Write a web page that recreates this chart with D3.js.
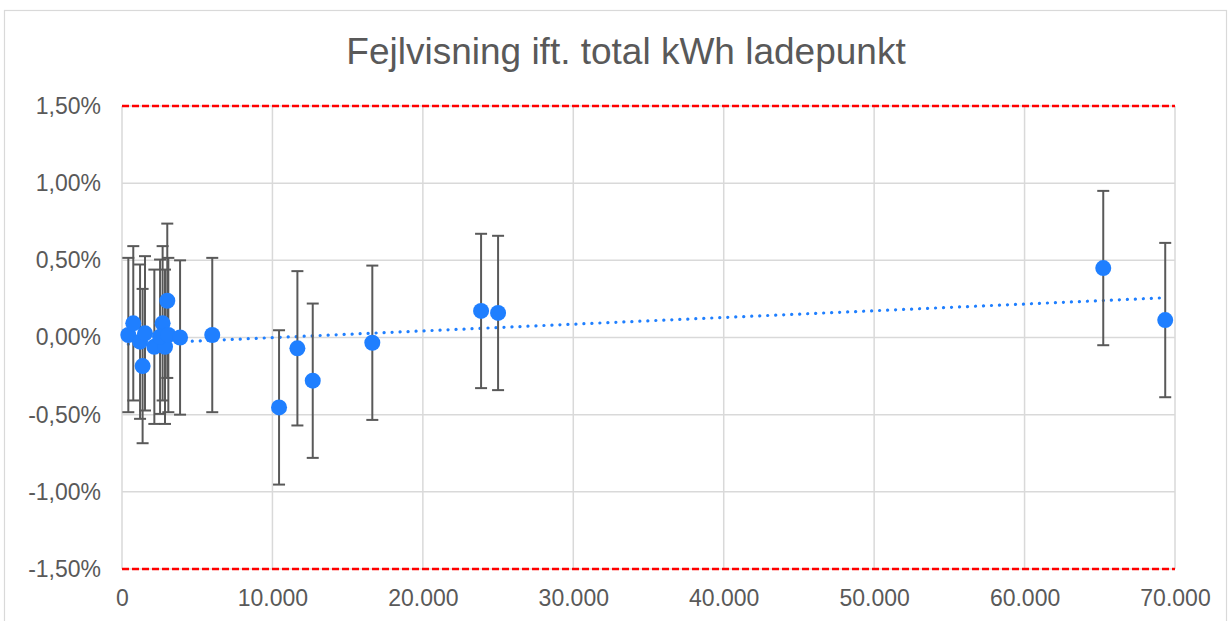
<!DOCTYPE html>
<html><head><meta charset="utf-8">
<script src="https://cdn.jsdelivr.net/npm/d3@7"></script>
<style>body{margin:0;background:#fff}svg{display:block}</style>
</head><body>
<svg id="c" width="1231" height="621"></svg>
<script>
const title = "Fejlvisning ift. total kWh ladepunkt";
const kwh = [420, 750, 1200, 1530, 1370, 2150, 2700, 3010, 2860, 2530, 3080, 3860, 6000,
             10440, 11660, 12680, 16640, 23870, 25000, 65230, 69350];
const errPct = [0.016, 0.092, -0.027, 0.027, -0.185, -0.06, 0.092, 0.238, -0.06, 0.005, 0.016, 0.0, 0.016,
                -0.453, -0.07, -0.28, -0.034, 0.172, 0.159, 0.45, 0.113];
const errBar = 0.5;          // ± error bar in %
const limits = [1.5, -1.5];  // red dashed limits in %
const xTicks = [0, 10000, 20000, 30000, 40000, 50000, 60000, 70000];
const yTicks = [1.5, 1.0, 0.5, 0.0, -0.5, -1.0, -1.5];

const loc = d3.formatLocale({decimal: ",", thousands: ".", grouping: [3], currency: ["", " kr"], minus: "-"});
const fx = loc.format(",.0f");
const fy = v => loc.format(".2f")(v) + "%";

const svg = d3.select("#c");
const L = 122, R = 1175, T = 106, B = 569;
const x = d3.scaleLinear().domain([0, 70000]).range([L, R]);
const y = d3.scaleLinear().domain([-1.5, 1.5]).range([B, T]);
const grey = "#595959", grid = "#d9d9d9", blue = "#1f7fff";
const font = "Liberation Sans, Arial, sans-serif";

svg.append("rect").attr("x", 4.5).attr("y", 10.5).attr("width", 1222).attr("height", 640)
  .attr("fill", "#fff").attr("stroke", grid).attr("stroke-width", 1.2);

svg.append("text").attr("x", 626).attr("y", 64).attr("text-anchor", "middle")
  .attr("font-family", font).attr("font-size", 37)
  .attr("fill", grey).text(title);

// gridlines
svg.append("g").selectAll("line").data(xTicks).join("line")
  .attr("x1", d => x(d)).attr("x2", d => x(d)).attr("y1", T).attr("y2", B)
  .attr("stroke", grid).attr("stroke-width", 1.5);
svg.append("g").selectAll("line").data(yTicks).join("line")
  .attr("x1", L).attr("x2", R).attr("y1", d => y(d)).attr("y2", d => y(d))
  .attr("stroke", grid).attr("stroke-width", 1.5);

// axes labels
const xAxis = d3.axisBottom(x).tickValues(xTicks).tickFormat(fx).tickSize(0).tickPadding(21);
const gx = svg.append("g").attr("transform", `translate(0,${B})`).call(xAxis);
const yAxis = d3.axisLeft(y).tickValues(yTicks).tickFormat(fy).tickSize(0).tickPadding(21);
const gy = svg.append("g").attr("transform", `translate(${L},0)`).call(yAxis);
[gx, gy].forEach(g => {
  g.select(".domain").remove();
  g.selectAll("text").attr("font-family", font)
    .attr("font-size", 23).attr("fill", grey);
});

// red limits
svg.append("g").selectAll("line").data(limits).join("line")
  .attr("x1", L).attr("x2", R).attr("y1", d => y(d)).attr("y2", d => y(d))
  .attr("stroke", "#ff0000").attr("stroke-width", 2.5).attr("stroke-dasharray", "7,3");

// trendline (least squares)
const data = kwh.map((k, i) => ({k, v: errPct[i]}));
const mx = d3.mean(kwh), my = d3.mean(errPct);
const sxy = d3.sum(data, d => (d.k - mx) * (d.v - my));
const sxx = d3.sum(data, d => (d.k - mx) ** 2);
const slope = sxy / sxx, icpt = my - slope * mx;
const x0 = d3.min(kwh), x1 = d3.max(kwh);
svg.append("line").attr("x1", x(x0)).attr("x2", x(x1))
  .attr("y1", y(icpt + slope * x0)).attr("y2", y(icpt + slope * x1))
  .attr("stroke", blue).attr("stroke-width", 3.2).attr("stroke-linecap", "round")
  .attr("stroke-dasharray", "0.1,7.9");

// error bars
const eb = svg.append("g").attr("stroke", grey).attr("stroke-width", 2);
data.forEach(d => {
  const cx = x(d.k);
  eb.append("line").attr("x1", cx).attr("x2", cx).attr("y1", y(d.v + errBar)).attr("y2", y(d.v - errBar));
  [d.v + errBar, d.v - errBar].forEach(v => eb.append("line")
    .attr("x1", cx - 6).attr("x2", cx + 6).attr("y1", y(v)).attr("y2", y(v)));
});

// points
svg.append("g").selectAll("circle").data(data).join("circle")
  .attr("cx", d => x(d.k)).attr("cy", d => y(d.v)).attr("r", 8).attr("fill", blue);
</script>
</body></html>
